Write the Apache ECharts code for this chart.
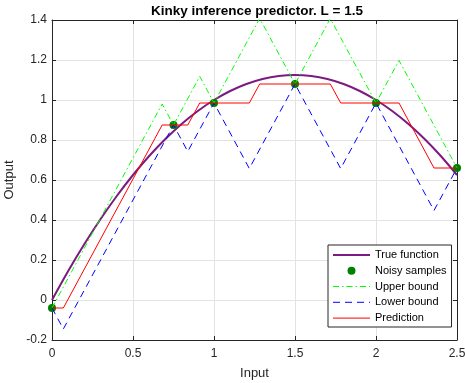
<!DOCTYPE html>
<html>
<head>
<meta charset="utf-8">
<script src="https://cdn.jsdelivr.net/npm/echarts@6/dist/echarts.min.js"></script>
<style>html,body{margin:0;padding:0;background:#fff}#c{width:465px;height:383px}</style>
</head>
<body>
<div id="c"></div>
<script>
var titleText = 'Kinky inference predictor. L = 1.5';
var xTicks = [0, 0.5, 1, 1.5, 2, 2.5];
var yTicks = [-0.2, 0, 0.2, 0.4, 0.6, 0.8, 1, 1.2, 1.4];

var trueX = [0,0.1,0.2,0.3,0.4,0.5,0.6,0.7,0.8,0.9,1.0,1.1,1.2,1.3,1.4,1.5,1.6,1.7,1.8,1.9,2.0,2.1,2.2,2.3,2.4,2.5];
var trueY = [0,0.145,0.28,0.405,0.52,0.625,0.72,0.805,0.88,0.945,1.0,1.045,1.08,1.105,1.12,1.125,1.12,1.105,1.08,1.045,1.0,0.945,0.88,0.805,0.72,0.625];

var sampleX = [0, 0.75, 1.0, 1.5, 2.0, 2.5];
var sampleY = [-0.04, 0.875, 0.985, 1.08, 0.985, 0.66];

var upperX = [0, 0.68, 0.75, 0.912, 1.0, 1.282, 1.5, 1.718, 2.0, 2.142, 2.5];
var upperY = [-0.04, 0.98, 0.875, 1.118, 0.985, 1.408, 1.08, 1.407, 0.985, 1.198, 0.66];

var lowerX = [0, 0.07, 0.75, 0.838, 1.0, 1.218, 1.5, 1.782, 2.0, 2.358, 2.5];
var lowerY = [-0.04, -0.145, 0.875, 0.7425, 0.985, 0.6575, 1.08, 0.6575, 0.985, 0.4475, 0.66];

var predX = [0, 0.07, 0.68, 0.75, 0.838, 0.912, 1.0, 1.218, 1.282, 1.5, 1.718, 1.782, 2.0, 2.142, 2.358, 2.5];
var predY = [-0.04, -0.04, 0.875, 0.875, 0.875, 0.985, 0.985, 0.985, 1.08, 1.08, 1.08, 0.985, 0.985, 0.985, 0.66, 0.66];

var seriesNames = ['True function', 'Noisy samples', 'Upper bound', 'Lower bound', 'Prediction'];

function zip(xs, ys) { return xs.map(function (x, i) { return [x, ys[i]]; }); }

var FONT = '"Liberation Sans", Arial, Helvetica, sans-serif';
var DARK = '#262626';

var chart = echarts.init(document.getElementById('c'), null, {renderer: 'canvas'});

function axisCommon(min, max, interval) {
  return {
    type: 'value', min: min, max: max, interval: interval,
    axisLine: {show: true, onZero: false, lineStyle: {color: DARK, width: 1}},
    axisTick: {show: true, inside: true, length: 4, lineStyle: {color: DARK}},
    splitLine: {show: false},
    axisLabel: {show: false}
  };
}

var xMain = axisCommon(xTicks[0], xTicks[xTicks.length - 1], 0.5);
xMain.position = 'bottom';
xMain.axisLabel = {show: true, color: DARK, fontSize: 12, fontFamily: FONT, margin: 8};
xMain.splitLine = {show: true, lineStyle: {color: '#e3e3e3', width: 1}};
xMain.name = 'Input';
xMain.nameLocation = 'middle';
xMain.nameGap = 27;
xMain.nameTextStyle = {color: DARK, fontSize: 13, fontFamily: FONT};

var xTop = axisCommon(xTicks[0], xTicks[xTicks.length - 1], 0.5);
xTop.position = 'top';

var yMain = axisCommon(yTicks[0], yTicks[yTicks.length - 1], 0.2);
yMain.position = 'left';
yMain.axisLabel = {show: true, color: DARK, fontSize: 12, fontFamily: FONT, margin: 5};
yMain.splitLine = {show: true, lineStyle: {color: '#e3e3e3', width: 1}};
yMain.name = 'Output';
yMain.nameLocation = 'middle';
yMain.nameGap = 29;
yMain.nameTextStyle = {color: DARK, fontSize: 13, fontFamily: FONT};

var yRight = axisCommon(yTicks[0], yTicks[yTicks.length - 1], 0.2);
yRight.position = 'right';

var hideSym = {opacity: 0};

chart.setOption({
  animation: false,
  backgroundColor: '#fff',
  title: {
    text: titleText, left: 252, top: -1, textAlign: 'center',
    textStyle: {color: '#000', fontSize: 13.5, fontWeight: 'bold', fontFamily: FONT}
  },
  grid: {left: 52, right: 8, top: 20, bottom: 43, containLabel: false, outerBoundsMode: 'none'},
  xAxis: [xMain, xTop],
  yAxis: [yMain, yRight],
  legend: {
    orient: 'vertical', left: 328, top: 245,
    data: [
      {name: seriesNames[0], itemStyle: hideSym, lineStyle: {width: 2}},
      {name: seriesNames[1]},
      {name: seriesNames[2], itemStyle: hideSym, lineStyle: {width: 1}},
      {name: seriesNames[3], itemStyle: hideSym, lineStyle: {width: 1}},
      {name: seriesNames[4], itemStyle: hideSym, lineStyle: {width: 1}}
    ],
    backgroundColor: '#fff', borderColor: DARK, borderWidth: 1, borderRadius: 0,
    padding: [3, 5, 2, 4], itemGap: 2, itemWidth: 37, itemHeight: 8, itemTextGap: 3,
    textStyle: {color: '#000', fontSize: 11, fontFamily: FONT, lineHeight: 13.8},
    selectedMode: false
  },
  series: [
    {
      name: seriesNames[0], type: 'line', data: zip(trueX, trueY), symbol: 'none', smooth: 0.3,
      lineStyle: {color: '#7d1a80', width: 2}, itemStyle: {color: '#7d1a80'}, z: 2
    },
    {
      name: seriesNames[1], type: 'scatter', data: zip(sampleX, sampleY), symbol: 'circle', symbolSize: 8,
      itemStyle: {color: '#008000', opacity: 1}, z: 3
    },
    {
      name: seriesNames[2], type: 'line', data: zip(upperX, upperY), symbol: 'none',
      lineStyle: {color: '#00ff00', width: 1, type: [6, 3, 1.5, 3]}, itemStyle: {color: '#00ff00'}, z: 4
    },
    {
      name: seriesNames[3], type: 'line', data: zip(lowerX, lowerY), symbol: 'none',
      lineStyle: {color: '#0000ff', width: 1, type: [7, 5]}, itemStyle: {color: '#0000ff'}, z: 5
    },
    {
      name: seriesNames[4], type: 'line', data: zip(predX, predY), symbol: 'none',
      lineStyle: {color: '#ff0000', width: 1}, itemStyle: {color: '#ff0000'}, z: 6
    }
  ]
});
</script>
</body>
</html>
